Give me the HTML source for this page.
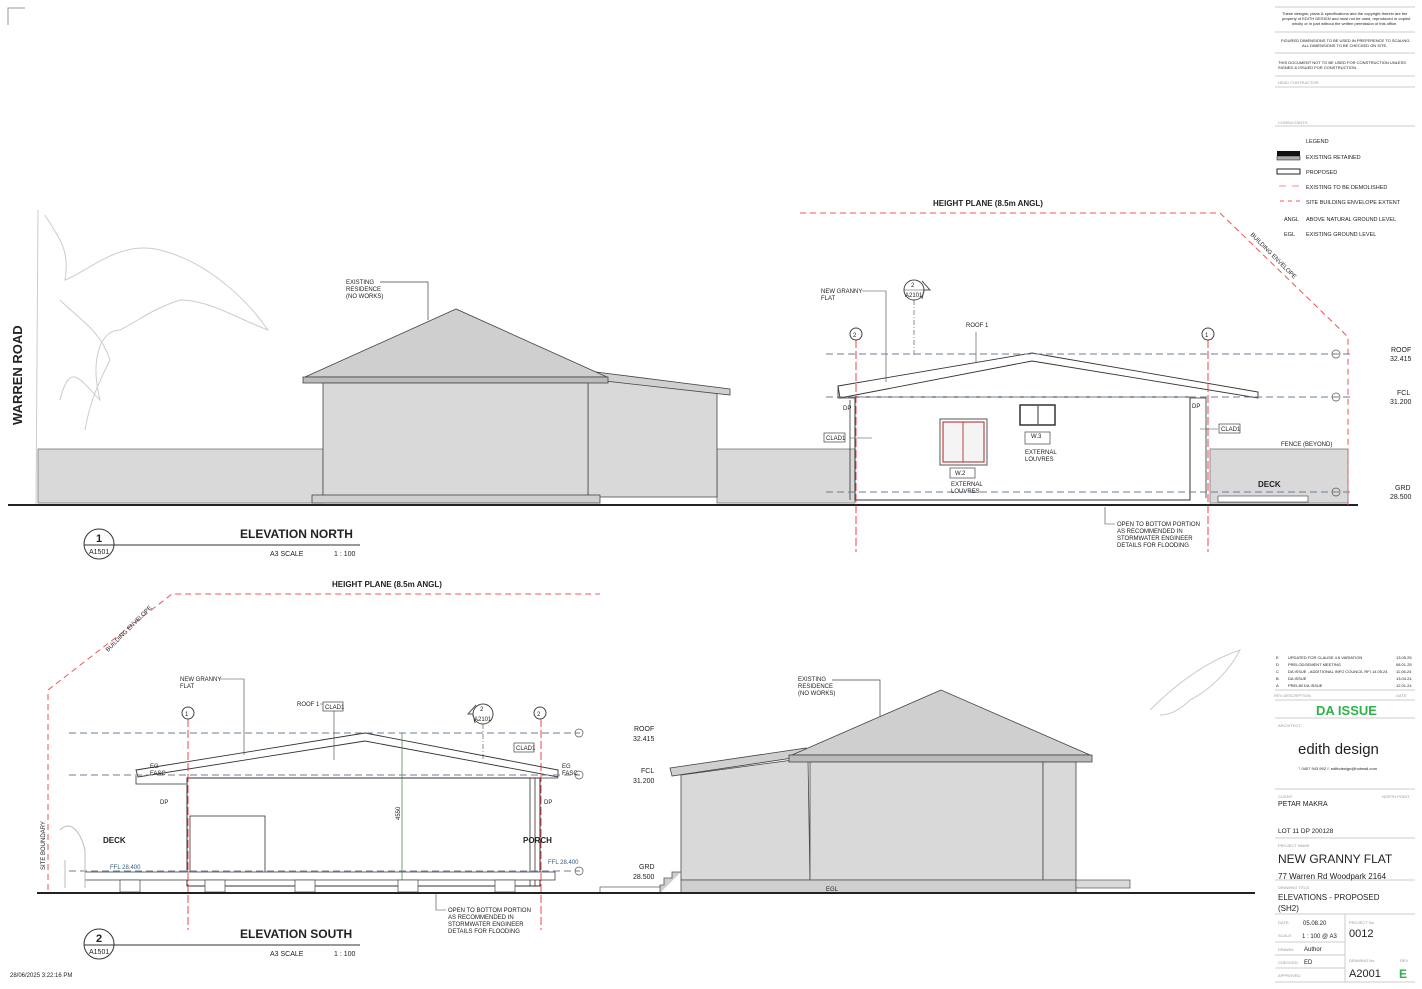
<!DOCTYPE html>
<html><head><meta charset="utf-8"><style>
html,body{margin:0;padding:0;background:#fff}
svg{display:block}
text{font-family:"Liberation Sans",sans-serif;fill:#222}
.s{font-size:6px}
.m{font-size:7px}
</style></head><body>
<svg width="1422" height="989" viewBox="0 0 1422 989" xmlns="http://www.w3.org/2000/svg">
<path d="M8 25V8H25" fill="none" stroke="#999" stroke-width="1"/>
<g fill="none" stroke="#ccc" stroke-width="1">
<path d="M38 210L36 505"/>
<path d="M45 215C60 240 70 250 65 280C90 270 120 240 160 250C200 260 240 290 268 330C240 320 210 300 180 300C150 310 140 320 120 330C100 330 90 360 100 400C80 380 70 360 60 400"/>
<path d="M60 300C80 320 100 330 110 360C100 380 90 400 85 430"/>
<path d="M1150 710C1180 680 1210 660 1240 650C1230 670 1210 690 1190 700C1180 710 1170 715 1160 715"/>
</g>
<text x="0" y="0" transform="translate(22,425) rotate(-90)" font-size="13" font-weight="bold">WARREN ROAD</text>

<!-- ===== NORTH ELEVATION ===== -->
<rect x="38" y="449" width="285" height="54" fill="#d9d9d9" stroke="#777" stroke-width="0.8"/>
<rect x="717" y="449" width="138" height="54" fill="#d9d9d9" stroke="#777" stroke-width="0.8"/>
<rect x="1210" y="449" width="138" height="54" fill="#d9d9d9" stroke="#777" stroke-width="0.8"/>
<polygon points="588,378 717,393 717,497 588,497" fill="#d9d9d9" stroke="#444" stroke-width="0.8"/>
<polygon points="596,372 730,389 730,395 596,380" fill="#d0d0d0" stroke="#444" stroke-width="0.8"/>
<polygon points="456,309 305,377 607,377" fill="#cfcfcf" stroke="#444" stroke-width="0.8"/>
<rect x="303" y="377" width="305" height="6" fill="#bbb" stroke="#444" stroke-width="0.8"/>
<rect x="323" y="383" width="265" height="114" fill="#d9d9d9" stroke="#444" stroke-width="0.8"/>
<rect x="312" y="495" width="288" height="8" fill="#cfcfcf" stroke="#444" stroke-width="0.8"/>
<text x="346" y="284" class="s">EXISTING</text><text x="346" y="291" class="s">RESIDENCE</text><text x="346" y="298" class="s">(NO WORKS)</text>
<path d="M380 282H428V320" fill="none" stroke="#444" stroke-width="0.7"/>
<line x1="8" y1="505" x2="1358" y2="505" stroke="#222" stroke-width="2"/>
<path d="M800 213H1220L1348 337V505" fill="none" stroke="#e55" stroke-width="1" stroke-dasharray="6,4"/>
<text x="933" y="206" font-size="8" font-weight="bold">HEIGHT PLANE (8.5m ANGL)</text>
<text x="0" y="0" transform="translate(1250,235) rotate(45)" class="s">BUILDING ENVELOPE</text>
<rect x="855" y="397" width="335" height="103" fill="#fff" stroke="#333" stroke-width="1"/>
<polygon points="838,386 1032,353 1258,392 1258,398 1032,361 840,398" fill="#fff" stroke="#333" stroke-width="0.9"/>
<path d="M838 386v12h17M1190 398h16v100" fill="none" stroke="#333" stroke-width="0.8"/>
<path d="M850 400v100" stroke="#333" stroke-width="0.8"/>
<rect x="940" y="419" width="47" height="46" fill="#fff" stroke="#555"/>
<rect x="943" y="422" width="41" height="40" fill="#f4f4f4" stroke="#b44" stroke-width="1.2"/>
<line x1="963" y1="422" x2="963" y2="462" stroke="#b44"/>
<rect x="1020" y="405" width="35" height="20" fill="#fff" stroke="#333" stroke-width="1.5"/>
<line x1="1038" y1="406" x2="1038" y2="424" stroke="#333"/>
<rect x="1025" y="432" width="25" height="12" fill="#fff" stroke="#444" stroke-width="0.7"/><text x="1031" y="438" class="s">W.3</text>
<rect x="950" y="468" width="25" height="10" fill="#fff" stroke="#444" stroke-width="0.7"/><text x="955" y="475" class="s">W.2</text>
<text x="951" y="486" class="s">EXTERNAL</text><text x="951" y="493" class="s">LOUVRES</text>
<text x="1025" y="454" class="s">EXTERNAL</text><text x="1025" y="461" class="s">LOUVRES</text>
<rect x="824" y="433" width="21" height="9" fill="#fff" stroke="#444" stroke-width="0.7"/><text x="826" y="440" class="s">CLAD1</text>
<rect x="1219" y="424" width="21" height="9" fill="#fff" stroke="#444" stroke-width="0.7"/><text x="1221" y="431" class="s">CLAD1</text>
<path d="M850 438h22M1200 429h18" stroke="#444" stroke-width="0.6"/>
<text x="843" y="410" class="s">DP</text><text x="1192" y="408" class="s">DP</text>
<text x="821" y="293" class="s">NEW GRANNY</text><text x="821" y="300" class="s">FLAT</text>
<path d="M862 291H886V382" fill="none" stroke="#444" stroke-width="0.6"/>
<text x="966" y="327" class="s">ROOF 1</text><path d="M976 332V362" stroke="#444" stroke-width="0.6"/>
<circle cx="914" cy="290" r="10" fill="#fff" stroke="#444"/><path d="M924 290l6 0-8-9M924 290l-2 9" fill="none" stroke="#555"/>
<line x1="904" y1="290" x2="924" y2="290" stroke="#444" stroke-width="0.5"/>
<text x="911" y="287" class="s">2</text><text x="905" y="297" class="s">A2101</text>
<path d="M914 300V356" stroke="#444" stroke-width="0.6" stroke-dasharray="5,2,1,2"/>
<circle cx="856" cy="334" r="6" fill="#fff" stroke="#444"/><text x="853" y="337" class="s">2</text>
<circle cx="1208" cy="334" r="6" fill="#fff" stroke="#444"/><text x="1205" y="337" class="s">1</text>
<path d="M856 340V552M1208 340V552" stroke="#e33" stroke-width="0.9" stroke-dasharray="8,3"/>
<path d="M826 354H1350M826 397H1350M826 492H1350" stroke="#6b7f96" stroke-width="0.9" stroke-dasharray="7,4"/>
<g fill="none" stroke="#555" stroke-width="0.7"><circle cx="1336" cy="354" r="4"/><circle cx="1336" cy="397" r="4"/><circle cx="1336" cy="492" r="4"/></g>
<text x="1391" y="352" class="m">ROOF</text><text x="1390" y="361" class="m">32.415</text>
<text x="1397" y="395" class="m">FCL</text><text x="1390" y="404" class="m">31.200</text>
<text x="1395" y="490" class="m">GRD</text><text x="1390" y="499" class="m">28.500</text>
<text x="1258" y="487" font-size="8" font-weight="bold">DECK</text>
<text x="1281" y="446" class="s">FENCE (BEYOND)</text>
<rect x="1218" y="496" width="90" height="6" fill="#fff" stroke="#555" stroke-width="0.7"/>
<text x="1117" y="526" class="s">OPEN TO BOTTOM PORTION</text><text x="1117" y="533" class="s">AS RECOMMENDED IN</text><text x="1117" y="540" class="s">STORMWATER ENGINEER</text><text x="1117" y="547" class="s">DETAILS FOR FLOODING</text>
<path d="M1105 507V524H1115" fill="none" stroke="#444" stroke-width="0.6"/>
<circle cx="99" cy="544" r="15" fill="#fff" stroke="#333"/><line x1="84" y1="545" x2="360" y2="545" stroke="#333"/>
<text x="96" y="542" font-size="11" font-weight="bold">1</text><text x="89" y="554" class="m">A1501</text>
<text x="240" y="538" font-size="12" font-weight="bold">ELEVATION NORTH</text>
<text x="270" y="556" class="m">A3 SCALE</text><text x="334" y="556" class="m">1 : 100</text>

<!-- ===== SOUTH ELEVATION ===== -->
<path d="M48 890V690L172 594H600" fill="none" stroke="#e55" stroke-width="1" stroke-dasharray="6,4"/>
<text x="332" y="587" font-size="8" font-weight="bold">HEIGHT PLANE (8.5m ANGL)</text>
<text x="0" y="0" transform="translate(108,652) rotate(-45)" class="s">BUILDING ENVELOPE</text>
<rect x="187" y="778" width="353" height="108" fill="#fff" stroke="#333"/>
<polygon points="136,770 365,733 558,770 558,777 365,741 138,777" fill="#fff" stroke="#333" stroke-width="0.9"/>
<path d="M136 776v8h50M540 778h18" fill="none" stroke="#333" stroke-width="0.8"/>
<rect x="190" y="816" width="75" height="62" fill="#fff" stroke="#333" stroke-width="0.8"/>
<path d="M530 778v108M535 778v108" stroke="#333" stroke-width="0.8"/>
<rect x="85" y="872" width="470" height="8" fill="#fff" stroke="#444" stroke-width="0.8"/>
<g fill="#fff" stroke="#444" stroke-width="0.7"><rect x="120" y="880" width="20" height="12"/><rect x="205" y="880" width="20" height="12"/><rect x="295" y="880" width="20" height="12"/><rect x="398" y="880" width="20" height="12"/><rect x="495" y="880" width="20" height="12"/></g>
<path d="M402 733V880" stroke="#3a7a3a" stroke-width="0.7"/><text x="0" y="0" transform="translate(400,820) rotate(-90)" class="s">4550</text>
<path d="M69 733H580M69 775H580M69 871H580" stroke="#6b7f96" stroke-width="0.9" stroke-dasharray="7,4"/>
<g fill="none" stroke="#555" stroke-width="0.7"><circle cx="579" cy="733" r="4"/><circle cx="579" cy="775" r="4"/><circle cx="579" cy="871" r="4"/></g>
<text x="634" y="731" class="m">ROOF</text><text x="633" y="741" class="m">32.415</text>
<text x="641" y="773" class="m">FCL</text><text x="633" y="783" class="m">31.200</text>
<text x="639" y="869" class="m">GRD</text><text x="633" y="879" class="m">28.500</text>
<circle cx="188" cy="713" r="6" fill="#fff" stroke="#444"/><text x="185" y="716" class="s">1</text>
<circle cx="540" cy="713" r="6" fill="#fff" stroke="#444"/><text x="537" y="716" class="s">2</text>
<path d="M188 719V930M541 719V930" stroke="#e33" stroke-width="0.9" stroke-dasharray="8,3"/>
<circle cx="483" cy="714" r="10" fill="#fff" stroke="#444"/><path d="M473 714l-5 0 8-9M473 714l2 9" fill="none" stroke="#555"/>
<text x="480" y="711" class="s">2</text><text x="474" y="721" class="s">A2101</text>
<path d="M483 724V760" stroke="#444" stroke-width="0.6" stroke-dasharray="5,2,1,2"/>
<text x="180" y="681" class="s">NEW GRANNY</text><text x="180" y="688" class="s">FLAT</text>
<path d="M220 679H244V755" fill="none" stroke="#444" stroke-width="0.6"/>
<text x="297" y="706" class="s">ROOF 1</text><path d="M320 704H334V760" fill="none" stroke="#444" stroke-width="0.6"/>
<rect x="323" y="702" width="20" height="9" fill="#fff" stroke="#444" stroke-width="0.7"/><text x="325" y="709" class="s">CLAD1</text>
<rect x="514" y="743" width="20" height="9" fill="#fff" stroke="#444" stroke-width="0.7"/><text x="516" y="750" class="s">CLAD1</text>
<text x="150" y="768" class="s">EG</text><text x="150" y="775" class="s">FASC</text>
<text x="562" y="768" class="s">EG</text><text x="562" y="775" class="s">FASC</text>
<text x="160" y="804" class="s">DP</text><text x="544" y="804" class="s">DP</text>
<text x="103" y="843" font-size="8" font-weight="bold">DECK</text>
<text x="523" y="843" font-size="8" font-weight="bold">PORCH</text>
<text x="110" y="869" class="s" style="fill:#355a80">FFL 28.400</text>
<text x="548" y="864" class="s" style="fill:#355a80">FFL 28.400</text>
<text x="0" y="0" transform="translate(45,870) rotate(-90)" class="s">SITE BOUNDARY</text>
<path d="M60 830C70 820 80 830 85 850V888M65 860V888" fill="none" stroke="#bbb"/>
<!-- existing residence south -->
<polygon points="670,768 806,748 806,756 672,776" fill="#cfcfcf" stroke="#444" stroke-width="0.8"/>
<polygon points="681,775 808,758 810,880 681,880" fill="#d9d9d9" stroke="#444" stroke-width="0.8"/>
<polygon points="941,690 792,755 1090,755" fill="#cfcfcf" stroke="#444" stroke-width="0.8"/>
<rect x="789" y="755" width="303" height="7" fill="#bbb" stroke="#444" stroke-width="0.8"/>
<rect x="810" y="762" width="233" height="118" fill="#d9d9d9" stroke="#444" stroke-width="0.8"/>
<rect x="1043" y="762" width="33" height="118" fill="#d9d9d9" stroke="#444" stroke-width="0.8"/>
<rect x="681" y="880" width="395" height="13" fill="#cfcfcf" stroke="#555" stroke-width="0.8"/>
<rect x="1076" y="880" width="54" height="8" fill="#d9d9d9" stroke="#555" stroke-width="0.7"/>
<path d="M660 893V885H664V878H672V872H681" fill="#cfcfcf" stroke="#555" stroke-width="0.8"/>
<rect x="600" y="887" width="60" height="6" fill="#fff" stroke="#555" stroke-width="0.7"/>
<text x="826" y="891" class="s">EGL</text>
<text x="798" y="681" class="s">EXISTING</text><text x="798" y="688" class="s">RESIDENCE</text><text x="798" y="695" class="s">(NO WORKS)</text>
<path d="M832 680H880V716" fill="none" stroke="#444" stroke-width="0.7"/>
<line x1="37" y1="893" x2="1255" y2="893" stroke="#222" stroke-width="2"/>
<text x="448" y="912" class="s">OPEN TO BOTTOM PORTION</text><text x="448" y="919" class="s">AS RECOMMENDED IN</text><text x="448" y="926" class="s">STORMWATER ENGINEER</text><text x="448" y="933" class="s">DETAILS FOR FLOODING</text>
<path d="M436 893V910H446" fill="none" stroke="#444" stroke-width="0.6"/>
<circle cx="99" cy="944" r="15" fill="#fff" stroke="#333"/><line x1="84" y1="945" x2="360" y2="945" stroke="#333"/>
<text x="96" y="942" font-size="11" font-weight="bold">2</text><text x="89" y="954" class="m">A1501</text>
<text x="240" y="938" font-size="12" font-weight="bold">ELEVATION SOUTH</text>
<text x="270" y="956" class="m">A3 SCALE</text><text x="334" y="956" class="m">1 : 100</text>
<text x="10" y="977" class="s">28/06/2025 3:22:16 PM</text>

<!-- ===== TITLE BLOCK ===== -->
<g stroke="#ccc" stroke-width="1">
<line x1="1275" y1="7" x2="1415" y2="7"/><line x1="1275" y1="32" x2="1415" y2="32"/><line x1="1275" y1="53" x2="1415" y2="53"/><line x1="1275" y1="76" x2="1415" y2="76"/><line x1="1275" y1="87" x2="1415" y2="87"/><line x1="1275" y1="126" x2="1415" y2="126"/>
<line x1="1275" y1="690" x2="1415" y2="690"/><line x1="1275" y1="700" x2="1415" y2="700"/><line x1="1275" y1="718" x2="1415" y2="718"/><line x1="1275" y1="789" x2="1415" y2="789"/><line x1="1275" y1="838" x2="1415" y2="838"/><line x1="1275" y1="880" x2="1415" y2="880"/><line x1="1275" y1="914" x2="1415" y2="914"/>
<line x1="1275" y1="942" x2="1345" y2="942"/><line x1="1275" y1="955" x2="1345" y2="955"/><line x1="1275" y1="968" x2="1345" y2="968"/><line x1="1275" y1="982" x2="1415" y2="982"/><line x1="1345" y1="914" x2="1345" y2="982"/>
</g>
<g font-size="4">
<text x="1282" y="15">These designs, plans &amp; specifications and the copyright therein are the</text>
<text x="1282" y="20">property of EDITH DESIGN and must not be used, reproduced or copied</text>
<text x="1292" y="25">wholly or in part without the written permission of this office.</text>
<text x="1281" y="42">FIGURED DIMENSIONS TO BE USED IN PREFERENCE TO SCALING.</text>
<text x="1302" y="47">ALL DIMENSIONS TO BE CHECKED ON SITE.</text>
<text x="1278" y="64">THIS DOCUMENT NOT TO BE USED FOR CONSTRUCTION UNLESS</text>
<text x="1278" y="69">SIGNED &amp; ISSUED FOR CONSTRUCTION.</text>
<text x="1278" y="84" style="fill:#999">HEAD CONTRACTOR:</text>
<text x="1278" y="124" style="fill:#999">CONSULTANTS:</text>
</g>
<g font-size="5.5">
<text x="1306" y="143">LEGEND</text>
<rect x="1277" y="151" width="23" height="5" fill="#111"/><rect x="1277" y="156" width="23" height="4" fill="#aaa" stroke="#111" stroke-width="0.5"/>
<text x="1306" y="159">EXISTING RETAINED</text>
<rect x="1277" y="169" width="23" height="5" fill="#fff" stroke="#222"/><text x="1306" y="174">PROPOSED</text>
<path d="M1279 186h7M1292 186h7" stroke="#f88" stroke-width="1"/><text x="1306" y="189">EXISTING TO BE DEMOLISHED</text>
<path d="M1280 201h4M1288 201h4M1296 201h4" stroke="#f55" stroke-width="1"/><text x="1306" y="204">SITE BUILDING ENVELOPE EXTENT</text>
<text x="1284" y="221">ANGL</text><text x="1306" y="221">ABOVE NATURAL GROUND LEVEL</text>
<text x="1284" y="236">EGL</text><text x="1306" y="236">EXISTING GROUND LEVEL</text>
</g>
<g font-size="4">
<text x="1276" y="659">E</text><text x="1288" y="659">UPDATED FOR CLAUSE 4.6 VARIATION</text><text x="1396" y="659">13.05.25</text>
<text x="1276" y="666">D</text><text x="1288" y="666">PRELODGEMENT MEETING</text><text x="1396" y="666">08.01.25</text>
<text x="1276" y="673">C</text><text x="1288" y="673">DA ISSUE - ADDITIONAL INFO COUNCIL RFI 14.05.24</text><text x="1396" y="673">11.06.24</text>
<text x="1276" y="680">B</text><text x="1288" y="680">DA ISSUE</text><text x="1396" y="680">13.04.24</text>
<text x="1276" y="687">A</text><text x="1288" y="687">PRELIM DA ISSUE</text><text x="1396" y="687">12.01.24</text>
<text x="1274" y="697" style="fill:#999">REV   DESCRIPTION</text><text x="1396" y="697" style="fill:#999">DATE</text>
<text x="1278" y="727" style="fill:#999">ARCHITECT:</text>
<text x="1278" y="798" style="fill:#999">CLIENT:</text><text x="1382" y="798" style="fill:#999">NORTH POINT</text>
<text x="1278" y="847" style="fill:#999">PROJECT NAME:</text>
<text x="1278" y="889" style="fill:#999">DRAWING TITLE:</text>
<text x="1278" y="924" style="fill:#999">DATE:</text><text x="1278" y="937" style="fill:#999">SCALE:</text>
<text x="1278" y="951" style="fill:#999">DRAWN:</text><text x="1278" y="964" style="fill:#999">CHECKED:</text><text x="1278" y="977" style="fill:#999">APPROVED:</text>
<text x="1349" y="924" style="fill:#999">PROJECT No.</text><text x="1349" y="962" style="fill:#999">DRAWING No.</text><text x="1400" y="962" style="fill:#999">REV</text>
<text x="1298" y="770"><tspan style="fill:#2c2">T</tspan> 0407 943 992 <tspan style="fill:#2c2">E</tspan> edithdesign@hotmail.com</text>
</g>
<text x="1316" y="715" font-size="13" font-weight="bold" style="fill:#2db34a">DA ISSUE</text>
<text x="1298" y="754" font-size="15">edith design</text>
<text x="1278" y="806" font-size="7">PETAR MAKRA</text>
<text x="1278" y="833" font-size="6.5">LOT 11  DP 200128</text>
<text x="1278" y="863" font-size="12">NEW GRANNY FLAT</text>
<text x="1278" y="879" font-size="8">77 Warren Rd Woodpark 2164</text>
<text x="1278" y="900" font-size="8">ELEVATIONS - PROPOSED</text>
<text x="1278" y="911" font-size="8">(SH2)</text>
<text x="1303" y="925" font-size="6">05.08.20</text>
<text x="1302" y="938" font-size="6">1 : 100  @ A3</text>
<text x="1304" y="951" font-size="6">Author</text>
<text x="1304" y="964" font-size="6">ED</text>
<text x="1349" y="937" font-size="11">0012</text>
<text x="1349" y="977" font-size="11">A2001</text>
<text x="1399" y="978" font-size="12" font-weight="bold" style="fill:#2db34a">E</text>
</svg>
</body></html>
